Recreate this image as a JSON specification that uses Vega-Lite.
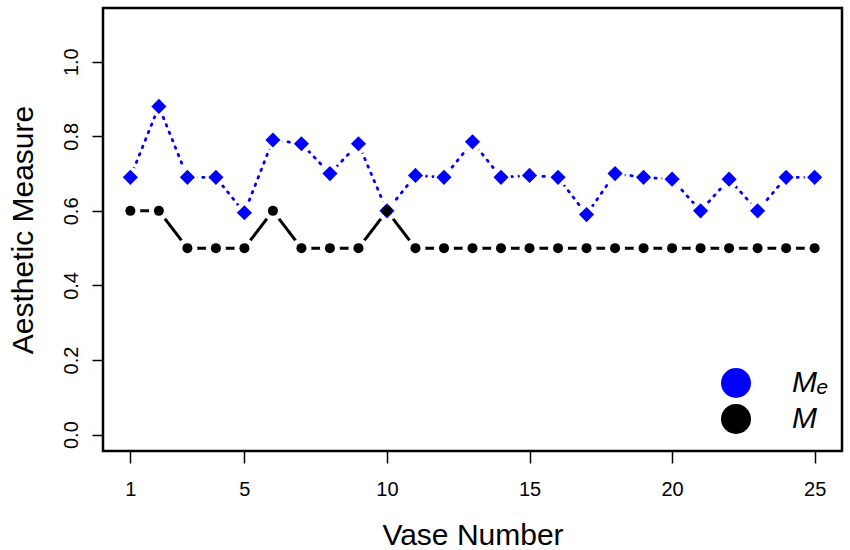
{
  "$schema": "https://vega.github.io/schema/vega-lite/v6.json",
  "autosize": {"type": "none"},
  "padding": {"left": 103, "top": 8, "right": 8, "bottom": 99},
  "width": 739,
  "height": 443,
  "background": "white",
  "data": {
    "values": [
      {"vase": 1, "series": "Me", "value": 0.69},
      {"vase": 2, "series": "Me", "value": 0.88},
      {"vase": 3, "series": "Me", "value": 0.69},
      {"vase": 4, "series": "Me", "value": 0.69},
      {"vase": 5, "series": "Me", "value": 0.595},
      {"vase": 6, "series": "Me", "value": 0.79},
      {"vase": 7, "series": "Me", "value": 0.78},
      {"vase": 8, "series": "Me", "value": 0.70},
      {"vase": 9, "series": "Me", "value": 0.78},
      {"vase": 10, "series": "Me", "value": 0.60},
      {"vase": 11, "series": "Me", "value": 0.695},
      {"vase": 12, "series": "Me", "value": 0.69},
      {"vase": 13, "series": "Me", "value": 0.785},
      {"vase": 14, "series": "Me", "value": 0.69},
      {"vase": 15, "series": "Me", "value": 0.695},
      {"vase": 16, "series": "Me", "value": 0.69},
      {"vase": 17, "series": "Me", "value": 0.59},
      {"vase": 18, "series": "Me", "value": 0.70},
      {"vase": 19, "series": "Me", "value": 0.69},
      {"vase": 20, "series": "Me", "value": 0.685},
      {"vase": 21, "series": "Me", "value": 0.60},
      {"vase": 22, "series": "Me", "value": 0.685},
      {"vase": 23, "series": "Me", "value": 0.60},
      {"vase": 24, "series": "Me", "value": 0.69},
      {"vase": 25, "series": "Me", "value": 0.69},
      {"vase": 1, "series": "M", "value": 0.6},
      {"vase": 2, "series": "M", "value": 0.6},
      {"vase": 3, "series": "M", "value": 0.5},
      {"vase": 4, "series": "M", "value": 0.5},
      {"vase": 5, "series": "M", "value": 0.5},
      {"vase": 6, "series": "M", "value": 0.6},
      {"vase": 7, "series": "M", "value": 0.5},
      {"vase": 8, "series": "M", "value": 0.5},
      {"vase": 9, "series": "M", "value": 0.5},
      {"vase": 10, "series": "M", "value": 0.6},
      {"vase": 11, "series": "M", "value": 0.5},
      {"vase": 12, "series": "M", "value": 0.5},
      {"vase": 13, "series": "M", "value": 0.5},
      {"vase": 14, "series": "M", "value": 0.5},
      {"vase": 15, "series": "M", "value": 0.5},
      {"vase": 16, "series": "M", "value": 0.5},
      {"vase": 17, "series": "M", "value": 0.5},
      {"vase": 18, "series": "M", "value": 0.5},
      {"vase": 19, "series": "M", "value": 0.5},
      {"vase": 20, "series": "M", "value": 0.5},
      {"vase": 21, "series": "M", "value": 0.5},
      {"vase": 22, "series": "M", "value": 0.5},
      {"vase": 23, "series": "M", "value": 0.5},
      {"vase": 24, "series": "M", "value": 0.5},
      {"vase": 25, "series": "M", "value": 0.5}
    ]
  },
  "encoding": {
    "x": {
      "field": "vase", "type": "quantitative",
      "scale": {"domain": [0.04, 25.96], "nice": false, "zero": false},
      "axis": {
        "title": "Vase Number",
        "values": [1, 5, 10, 15, 20, 25],
        "tickSize": 12, "tickWidth": 1.5,
        "labelFontSize": 20, "labelPadding": 16,
        "titleFontSize": 30, "titleY": 93, "titleBaseline": "alphabetic"
      }
    },
    "y": {
      "field": "value", "type": "quantitative",
      "scale": {"domain": [-0.044, 1.144], "nice": false, "zero": false},
      "axis": {
        "title": "Aesthetic Measure",
        "values": [0, 0.2, 0.4, 0.6, 0.8, 1.0],
        "format": ".1f",
        "tickSize": 11, "tickWidth": 1.5,
        "labelFontSize": 20, "labelPadding": 15,
        "labelAngle": -90, "labelAlign": "center", "labelBaseline": "alphabetic",
        "titleFontSize": 30, "titleX": -71, "titleBaseline": "alphabetic", "titleAngle": -90
      }
    }
  },
  "layer": [
    {
      "mark": {"type": "line", "strokeCap": "round", "strokeJoin": "round"},
      "encoding": {
        "detail": {"field": "series"},
        "stroke": {"field": "series", "type": "nominal", "scale": {"domain": ["M", "Me"], "range": ["#000000", "#0000ff"]}, "legend": null},
        "strokeDash": {"field": "series", "type": "nominal", "scale": {"domain": ["M", "Me"], "range": [[1, 0], [1.5, 6.5]]}, "legend": null},
        "strokeWidth": {"field": "series", "type": "nominal", "scale": {"domain": ["M", "Me"], "range": [3, 2.8]}, "legend": null}
      }
    },
    {
      "mark": {"type": "point", "shape": "circle", "filled": true, "color": "white", "size": 400, "opacity": 1}
    },
    {
      "transform": [{"filter": "datum.series === 'Me'"}],
      "mark": {"type": "point", "filled": true, "opacity": 1, "shape": "diamond", "size": 230},
      "encoding": {
        "color": {
          "field": "series", "type": "nominal",
          "scale": {"domain": ["Me", "M"], "range": ["#0000ff", "#000000"]},
          "legend": {
            "title": null,
            "orient": "none",
            "legendX": 617,
            "legendY": 359,
            "padding": 0,
            "symbolSize": 900,
            "labelOffset": 40,
            "rowPadding": 5,
            "labelFontSize": 30,
            "labelFontStyle": "italic",
            "labelFont": "Liberation Sans",
            "labelColor": "black",
            "labelExpr": "datum.value == 'Me' ? 'Mₑ' : 'M'",
            "encode": {
              "symbols": {
                "shape": {"condition": {"test": "datum.value === 'Me'", "value": "M-1.8,0L1.8,0M0,-0.43L0.43,0L0,0.43L-0.43,0Z"}, "value": "M-1.8,0L1.8,0M0.27,0A0.27,0.27,0,1,1,-0.27,0A0.27,0.27,0,1,1,0.27,0Z"},
                "size": {"value": 900},
                "stroke": {"condition": {"test": "datum.value === 'Me'", "value": "#0000ff"}, "value": "#000000"},
                "strokeDash": {"condition": {"test": "datum.value === 'Me'", "value": [1.5, 6.5]}, "value": [1, 0]},
                "strokeWidth": {"condition": {"test": "datum.value === 'Me'", "value": 2.8}, "value": 3},
                "strokeCap": {"value": "round"},
                "opacity": {"value": 1}
              }
            }
          }
        }
      }
    },
    {
      "transform": [{"filter": "datum.series === 'M'"}],
      "mark": {"type": "point", "filled": true, "opacity": 1, "shape": "circle", "size": 100},
      "encoding": {
        "color": {
          "field": "series", "type": "nominal",
          "scale": {"domain": ["Me", "M"], "range": ["#0000ff", "#000000"]}
        }
      }
    }
  ],
  "config": {
    "font": "Liberation Sans",
    "view": {"stroke": "black", "strokeWidth": 2.5},
    "axis": {
      "domain": false, "grid": false,
      "tickColor": "black", "labelColor": "black", "titleColor": "black",
      "labelFont": "Liberation Sans", "titleFont": "Liberation Sans",
      "titleFontWeight": "normal"
    }
  }
}
